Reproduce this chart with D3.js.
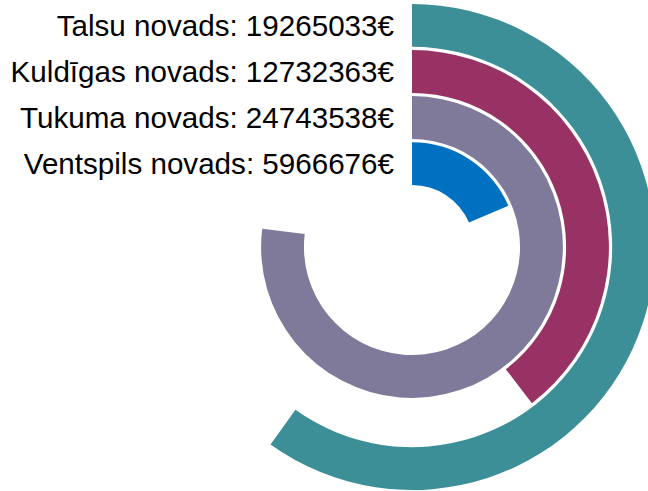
<!DOCTYPE html>
<html>
<head>
<meta charset="utf-8">
<script src="https://cdn.jsdelivr.net/npm/d3@7"></script>
<style>
  html, body { margin: 0; padding: 0; background: #fff; }
  svg { display: block; }
</style>
</head>
<body>
<svg id="chart" width="648" height="491"></svg>
<script>
// Data (outermost ring first)
const categories = ["Talsu novads", "Kuldīgas novads", "Tukuma novads", "Ventspils novads"];
const values = [19265033, 12732363, 24743538, 5966676];
const colors = ["#3D8F97", "#983264", "#7F7A9A", "#0070C0"];
const currency = "€";

const width = 648, height = 491;
const cx = 412, cy = 247;
const innerR = 62, outerR = 243;

const svg = d3.select("#chart");
const g = svg.append("g").attr("transform", `translate(${cx},${cy})`);

// radial band scale: last category innermost
const rScale = d3.scaleBand()
  .domain(categories.slice().reverse())
  .range([innerR, outerR])
  .paddingInner(0.07)
  .paddingOuter(0);

const angleMax = d3.max(values) * 1.3;
const aScale = d3.scaleLinear().domain([0, angleMax]).range([0, 2 * Math.PI]);

const arc = d3.arc()
  .innerRadius(d => rScale(d.cat))
  .outerRadius(d => rScale(d.cat) + rScale.bandwidth())
  .startAngle(0)
  .endAngle(d => aScale(d.val));

const data = categories.map((c, i) => ({ cat: c, val: values[i], color: colors[i] }));

g.selectAll("path.ring")
  .data(data)
  .join("path")
  .attr("class", "ring")
  .attr("d", arc)
  .attr("fill", d => d.color);

// labels
g.selectAll("text.lbl")
  .data(data)
  .join("text")
  .attr("class", "lbl")
  .attr("x", -18)
  .attr("y", d => -(rScale(d.cat) + rScale.bandwidth() / 2))
  .attr("dominant-baseline", "central")
  .attr("text-anchor", "end")
  .attr("font-family", "'Liberation Sans', Arial, sans-serif")
  .attr("font-size", 29.6)
  .attr("fill", "#000")
  .text(d => `${d.cat}: ${d.val}${currency}`);
</script>
</body>
</html>
